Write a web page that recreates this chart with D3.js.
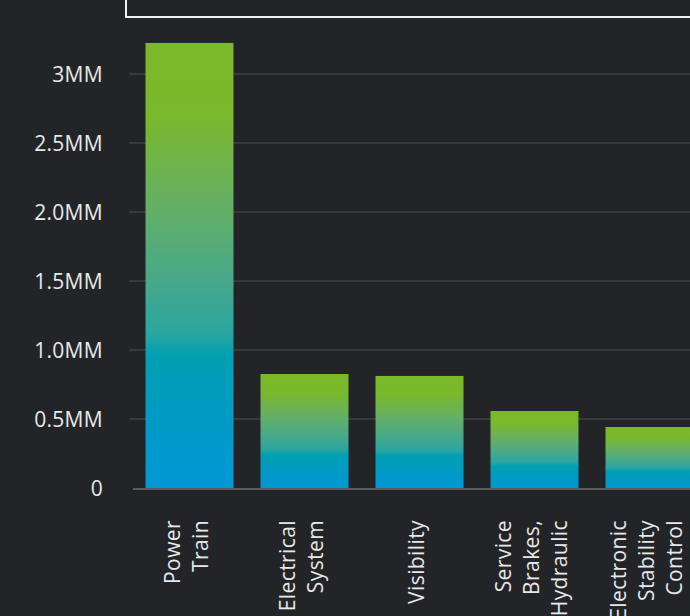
<!DOCTYPE html>
<html>
<head>
<meta charset="utf-8">
<script src="https://cdn.jsdelivr.net/npm/d3@7"></script>
<style>
  html, body { margin: 0; padding: 0; background: #232428; }
  svg { display: block; }
  text { font-family: "Open Sans", "Noto Sans", sans-serif; }
</style>
</head>
<body>
<svg id="chart" width="690" height="616"></svg>
<script>
// Complaint totals by vehicle component
const categories = ["Power Train", "Electrical System", "Visibility", "Service Brakes, Hydraulic", "Electronic Stability Control"];
const values = [3225000, 826000, 812000, 558000, 442000];
const tickValues = [0, 500000, 1000000, 1500000, 2000000, 2500000, 3000000];
const tickLabels = ["0", "0.5MM", "1.0MM", "1.5MM", "2.0MM", "2.5MM", "3MM"];

const width = 690, height = 616;
const svg = d3.select("#chart");

const x = d3.scaleBand()
  .domain(categories)
  .range([132, 707])
  .paddingInner(0.235)
  .paddingOuter(0.1175);

const y = d3.scaleLinear()
  .domain([0, 3000000])
  .range([488, 74]);

// vertical green-to-blue fill, stretched over each bar
const defs = svg.append("defs");
const grad = defs.append("linearGradient")
  .attr("id", "barFill")
  .attr("x1", 0).attr("y1", 0).attr("x2", 0).attr("y2", 1);
[
  [0, "#7ab929"], [0.16, "#7ab82c"], [0.34, "#68b05f"], [0.53, "#48a88a"],
  [0.65, "#2aa6a0"], [0.70, "#00a0b2"], [0.87, "#009ac8"], [1, "#0099d8"]
].forEach(([o, c]) => grad.append("stop").attr("offset", o).attr("stop-color", c));

// header box, mostly above the visible area
svg.append("rect")
  .attr("x", 126).attr("y", -40)
  .attr("width", 620).attr("height", 57)
  .attr("fill", "none")
  .attr("stroke", "#f2f2f2")
  .attr("stroke-width", 2);

// gridlines
svg.append("g")
  .selectAll("line")
  .data(tickValues.filter(d => d > 0))
  .join("line")
  .attr("x1", 129).attr("x2", width)
  .attr("y1", d => y(d)).attr("y2", d => y(d))
  .attr("stroke", "#4e4f53")
  .attr("stroke-width", 1);

// y axis
const yAxis = d3.axisLeft(y)
  .tickValues(tickValues)
  .tickFormat((d, i) => tickLabels[i])
  .tickSize(0)
  .tickPadding(0);

const ya = svg.append("g")
  .attr("transform", "translate(103,0)")
  .call(yAxis);
ya.select(".domain").remove();
ya.selectAll("text")
  .attr("fill", "#e8e8e8")
  .attr("font-size", 21)
  .attr("font-family", "'Open Sans', sans-serif")
  .attr("letter-spacing", "0.3px")
  .attr("dy", "0.36em");

// bars
svg.append("g")
  .selectAll("rect")
  .data(categories)
  .join("rect")
  .attr("x", d => x(d))
  .attr("width", x.bandwidth())
  .attr("y", (d, i) => y(values[i]))
  .attr("height", (d, i) => y(0) - y(values[i]) + 2)
  .attr("fill", "url(#barFill)");

// baseline
svg.append("line")
  .attr("x1", 133).attr("x2", width)
  .attr("y1", y(0) + 1).attr("y2", y(0) + 1)
  .attr("stroke", "#5c5c5e")
  .attr("stroke-width", 2);

// rotated, word-wrapped category labels
const lineH = 28;
const labels = svg.append("g")
  .selectAll("text")
  .data(categories)
  .join("text")
  .attr("transform", d => `translate(${x(d) + x.bandwidth() / 2},520) rotate(-90)`)
  .attr("text-anchor", "end")
  .attr("fill", "#e8e8e8")
  .attr("font-size", 21)
  .attr("letter-spacing", "0.4px");

labels.each(function (d) {
  const words = d.split(" ");
  const n = words.length;
  d3.select(this).selectAll("tspan")
    .data(words)
    .join("tspan")
    .attr("x", 0)
    .attr("y", (w, i) => (i - (n - 1) / 2) * lineH + 4)
    .text(w => w);
});
</script>
</body>
</html>
